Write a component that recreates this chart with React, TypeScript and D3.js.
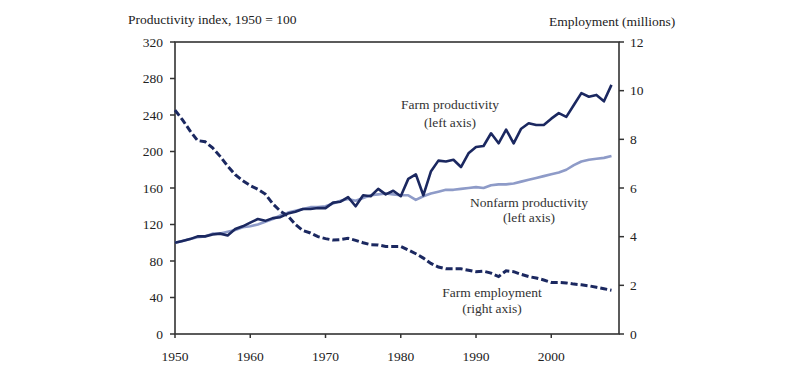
import * as d3 from "d3";

const years = d3.range(1950, 2009);

// left axis, index 1950 = 100
const farmProductivity = [
  100, 102, 104, 107, 107, 109, 110, 108, 115, 118,
  122, 126, 124, 127, 128, 132, 134, 137, 137, 138,
  138, 144, 145, 150, 140, 152, 151, 159, 153, 157,
  151, 170, 175, 152, 178, 190, 189, 191, 183, 198,
  205, 206, 220, 209, 224, 209, 225, 231, 229, 229,
  236, 242, 238, 251, 264, 260, 262, 255, 273,
];

const nonfarmProductivity = [
  100, 102, 104, 106, 107, 110, 110, 112, 114, 117,
  118, 120, 123, 126, 130, 133, 135, 137, 139, 139,
  140, 143, 146, 148, 146, 149, 152, 153, 154, 153,
  152, 152, 147, 151, 154, 156, 158, 158, 159, 160,
  161, 160, 163, 164, 164, 165, 167, 169, 171, 173,
  175, 177, 180, 185, 189, 191, 192, 193, 195,
];

// right axis, millions
const farmEmployment = [
  9.2, 8.8, 8.35, 7.95, 7.9, 7.65, 7.3, 6.9, 6.55, 6.3,
  6.1, 5.95, 5.75, 5.35, 5.05, 4.85, 4.5, 4.25, 4.15, 4.0,
  3.92, 3.86, 3.88, 3.93, 3.85, 3.75, 3.67, 3.66, 3.6, 3.6,
  3.6, 3.45, 3.3, 3.12, 2.9, 2.75, 2.68, 2.68, 2.68, 2.62,
  2.56, 2.58, 2.5, 2.36, 2.6, 2.56, 2.45, 2.36, 2.3, 2.22,
  2.12, 2.12, 2.1, 2.05, 2.02, 1.98, 1.92, 1.86, 1.8,
];

const leftTicks = [0, 40, 80, 120, 160, 200, 240, 280, 320];
const rightTicks = [0, 2, 4, 6, 8, 10, 12];
const yearTicks = [1950, 1960, 1970, 1980, 1990, 2000];

const DARK = "#1b2860";
const LIGHT = "#8e9bc8";
const AXIS = "#333";
const FONT = "'Liberation Serif', 'Times New Roman', serif";

export default function App() {
  const W = 800;
  const H = 366;
  const left = 175;
  const right = 619;
  const top = 42;
  const bottom = 334;

  const x = d3.scaleLinear().domain([1950, 2009]).range([left, right]);
  const yL = d3.scaleLinear().domain([0, 320]).range([bottom, top]);
  const yR = d3.scaleLinear().domain([0, 12]).range([bottom, top]);

  const lineL = d3
    .line<number>()
    .x((_, i) => x(years[i]))
    .y((d) => yL(d));
  const lineR = d3
    .line<number>()
    .x((_, i) => x(years[i]))
    .y((d) => yR(d));

  return (
    <svg
      width={W}
      height={H}
      style={{ position: "absolute", left: 0, top: 0, background: "#fff" }}
      fontFamily={FONT}
      fontSize={13.5}
    >
      <text x={128} y={24} fill="#222">
        Productivity index, 1950 = 100
      </text>
      <text x={549} y={26} fill="#222">
        Employment (millions)
      </text>

      {/* frame */}
      <rect
        x={left}
        y={top}
        width={right - left}
        height={bottom - top}
        fill="none"
        stroke={AXIS}
        strokeWidth={1.6}
      />

      {leftTicks.map((t) => (
        <g key={"l" + t}>
          <line x1={left - 5} x2={left} y1={yL(t)} y2={yL(t)} stroke={AXIS} strokeWidth={1.5} />
          <text x={163} y={yL(t)} dy="0.35em" textAnchor="end" fill="#222">
            {t}
          </text>
        </g>
      ))}

      {rightTicks.map((t) => (
        <g key={"r" + t}>
          <line x1={right} x2={right + 5} y1={yR(t)} y2={yR(t)} stroke={AXIS} strokeWidth={1.5} />
          <text x={630} y={yR(t)} dy="0.35em" fill="#222">
            {t}
          </text>
        </g>
      ))}

      {yearTicks.map((t) => (
        <g key={"x" + t}>
          <line x1={x(t)} x2={x(t)} y1={bottom} y2={bottom + 4} stroke={AXIS} strokeWidth={1.5} />
          <text x={x(t)} y={361} textAnchor="middle" fill="#222">
            {t}
          </text>
        </g>
      ))}

      <path d={lineL(nonfarmProductivity) ?? ""} fill="none" stroke={LIGHT} strokeWidth={2.6} strokeLinejoin="round" />
      <path d={lineL(farmProductivity) ?? ""} fill="none" stroke={DARK} strokeWidth={2.6} strokeLinejoin="round" />
      <path
        d={lineR(farmEmployment) ?? ""}
        fill="none"
        stroke={DARK}
        strokeWidth={3}
        strokeDasharray="7,3"
      />

      <g textAnchor="middle" fill="#333">
        <text x={450} y={109}>Farm productivity</text>
        <text x={450} y={127}>(left axis)</text>
        <text x={529} y={207}>Nonfarm productivity</text>
        <text x={529} y={222}>(left axis)</text>
        <text x={492} y={297}>Farm employment</text>
        <text x={492} y={313}>(right axis)</text>
      </g>
    </svg>
  );
}
